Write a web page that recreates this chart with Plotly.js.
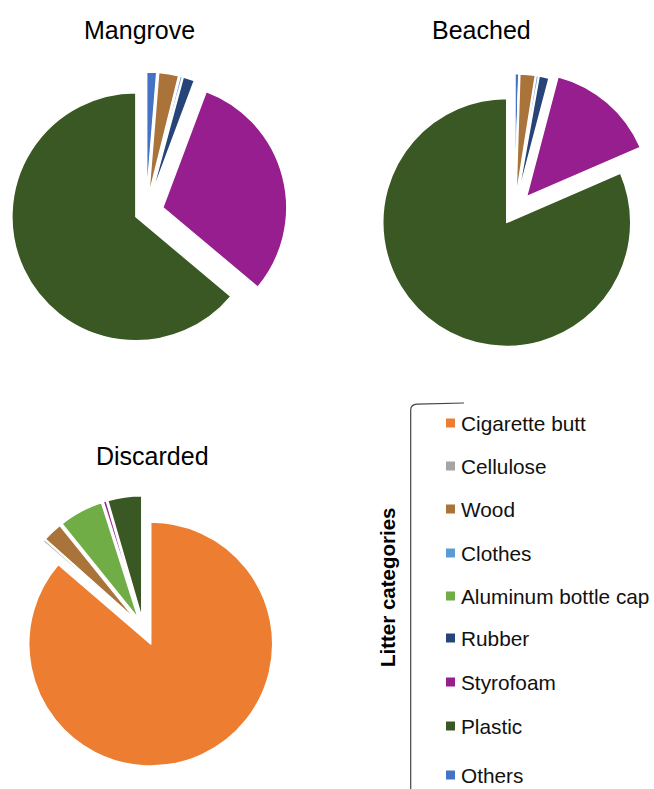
<!DOCTYPE html>
<html>
<head>
<meta charset="utf-8">
<script src="https://cdn.plot.ly/plotly-3.0.1.min.js"></script>
<style>
  html, body { margin: 0; padding: 0; overflow: hidden; background: #ffffff; }
  #chart { position: absolute; left: 0; top: 0; width: 700px; height: 789px; }
</style>
</head>
<body>
<div id="chart"></div>
<script>
// Litter categories in slice order (clockwise from 12 o'clock)
const categories = ['Others', 'Cigarette butt', 'Cellulose', 'Wood', 'Clothes',
  'Aluminum bottle cap', 'Rubber', 'Styrofoam', 'Plastic'];

// Share of each category (%) per site
const mangroveValues  = [1.3, 0,    0,   2.6, 0.3, 0,   1.5, 30.4, 63.9];
const beachedValues   = [0.5, 0,    0,   2.0, 0.3, 0,   1.3, 14.4, 81.5];
const discardedValues = [0,   86.3, 0.3, 2.6, 0,   5.9, 0,   0.4,  4.5];

// Legend order
const legendLabels = ['Cigarette butt', 'Cellulose', 'Wood', 'Clothes',
  'Aluminum bottle cap', 'Rubber', 'Styrofoam', 'Plastic', 'Others'];

const panelTitles = ['Mangrove', 'Beached', 'Discarded'];
const legendTitle = 'Litter categories';

// ---- styling ----
const colorOf = {
  'Cigarette butt': '#ED7D31',
  'Cellulose': '#A5A5A5',
  'Wood': '#A97339',
  'Clothes': '#5B9BD5',
  'Aluminum bottle cap': '#70AD47',
  'Rubber': '#264478',
  'Styrofoam': '#961E8E',
  'Plastic': '#3A5824',
  'Others': '#4472C4'
};
const FONT = 'Liberation Sans, Arial, Helvetica, sans-serif';
const W = 700, H = 789;
const fx = x => x / W;
const fy = y => 1 - y / H;

// explode amounts (fraction of radius) per slice
const mangrovePull  = [0.13, 0, 0, 0.13, 0.13, 0, 0.13, 0.14, 0.09];
const beachedPull   = [0.10, 0, 0, 0.10, 0.10, 0, 0.10, 0.145, 0.118];
const discardedPull = [0, 0.148, 0.082, 0.082, 0.082, 0.082, 0.082, 0.082, 0.082];

// pie placement: centre (px), radius (px)
const pies = [
  { values: mangroveValues,  pull: mangrovePull,  cx: 146,   cy: 212,   r: 124 },
  { values: beachedValues,   pull: beachedPull,   cx: 514.8, cy: 210.2, r: 124 },
  { values: discardedValues, pull: discardedPull, cx: 143.2, cy: 627.6, r: 122 }
];

function domainFor(p) {
  const half = p.r * (1 + Math.max(...p.pull));
  return {
    x: [fx(p.cx - half), fx(p.cx + half)],
    y: [fy(p.cy + half), fy(p.cy - half)]
  };
}

const traces = pies.map((p, i) => ({
  type: 'pie',
  name: panelTitles[i],
  labels: categories,
  values: p.values,
  pull: p.pull,
  sort: false,
  direction: 'clockwise',
  rotation: 0,
  textinfo: 'none',
  hoverinfo: 'label+percent',
  showlegend: false,
  domain: domainFor(p),
  marker: {
    colors: categories.map(c => colorOf[c]),
    line: { color: '#ffffff', width: 1.5 }
  }
}));

// panel titles
const titlePos = [[139, 30], [481.5, 30], [152, 456]];
const annotations = panelTitles.map((t, i) => ({
  xref: 'paper', yref: 'paper',
  x: fx(titlePos[i][0]), y: fy(titlePos[i][1]),
  xanchor: 'center', yanchor: 'middle',
  text: t, showarrow: false,
  font: { family: FONT, size: 25, color: '#000000' }
}));

// custom legend
const legendY = [423, 466, 509, 553, 596, 638, 682, 726, 775];
const shapes = [];
legendLabels.forEach((lab, i) => {
  const yc = legendY[i];
  shapes.push({
    type: 'rect', xref: 'paper', yref: 'paper',
    x0: fx(446), x1: fx(455), y0: fy(yc + 4.5), y1: fy(yc - 4.5),
    fillcolor: colorOf[lab], line: { width: 0 }
  });
  annotations.push({
    xref: 'paper', yref: 'paper',
    x: fx(459), y: fy(yc),
    xanchor: 'left', yanchor: 'middle',
    text: lab, showarrow: false,
    font: { family: FONT, size: 20.8, color: '#111111' }
  });
});

// legend bracket
shapes.push({
  type: 'path', xref: 'paper', yref: 'paper',
  path: `M ${fx(410.7)} ${fy(792)} L ${fx(410.7)} ${fy(410)} Q ${fx(410.7)} ${fy(404.5)} ${fx(417)} ${fy(404.2)} L ${fx(464)} ${fy(403)}`,
  line: { color: '#444444', width: 1.2 }
});

annotations.push({
  xref: 'paper', yref: 'paper',
  x: fx(387), y: fy(587),
  xanchor: 'center', yanchor: 'middle',
  textangle: -90,
  text: '<b>' + legendTitle + '</b>', showarrow: false,
  font: { family: FONT, size: 20.5, color: '#000000' }
});

const layout = {
  width: W, height: H,
  margin: { l: 0, r: 0, t: 0, b: 0 },
  paper_bgcolor: '#ffffff',
  plot_bgcolor: '#ffffff',
  showlegend: false,
  annotations: annotations,
  shapes: shapes
};

Plotly.newPlot('chart', traces, layout, { displayModeBar: false, staticPlot: true });
</script>
</body>
</html>
